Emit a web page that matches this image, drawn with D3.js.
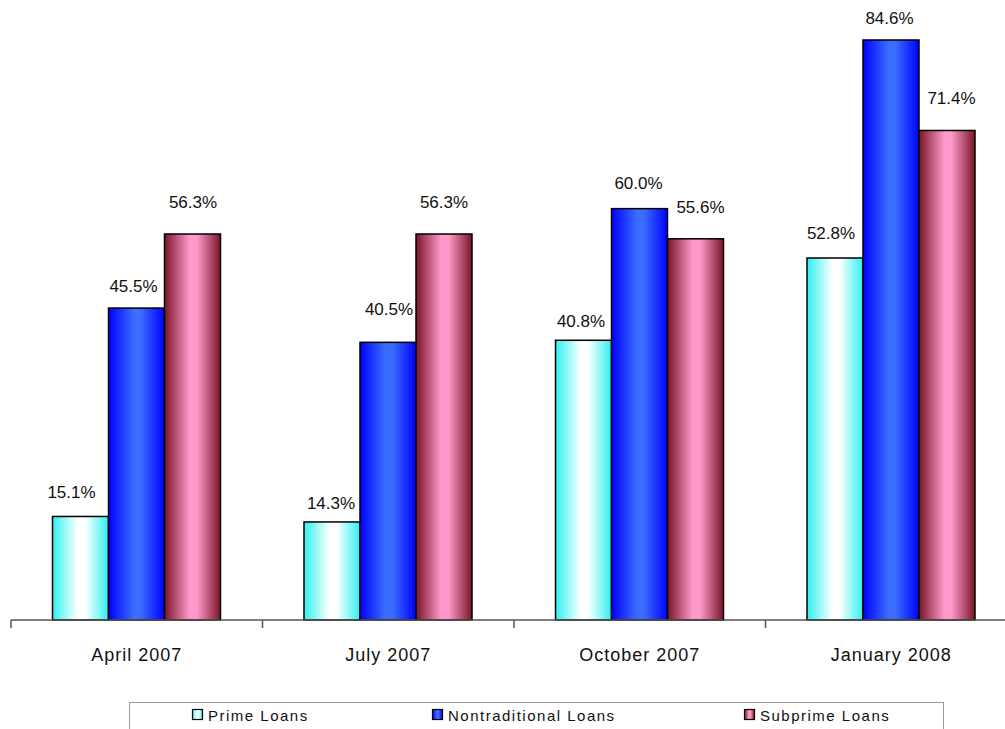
<!DOCTYPE html>
<html><head><meta charset="utf-8">
<script src="https://cdn.jsdelivr.net/npm/d3@7/dist/d3.min.js"></script>
<style>body{margin:0;background:#fff;}svg{display:block;}</style>
</head><body>
<svg id="c" width="1005" height="729"></svg>
<script>
const categories = ["April 2007", "July 2007", "October 2007", "January 2008"];
const seriesNames = ["Prime Loans", "Nontraditional Loans", "Subprime Loans"];
const prime = [15.1, 14.3, 40.8, 52.8];
const nontraditional = [45.5, 40.5, 60.0, 84.6];
const subprime = [56.3, 56.3, 55.6, 71.4];
const seriesValues = [prime, nontraditional, subprime];

// layout: label baseline gap above bar top and horizontal nudge, per series x category
const labelGap = [[18, 13, 13, 19], [16, 27, 20, 16], [26, 26, 26, 26]];
const labelNudge = [[-9, -1, -2.5, -4], [-3, 1, -1, -1.5], [0.5, 0, 5, 4.5]];

const svg = d3.select("#c");
const defs = svg.append("defs");
const grads = [
  {id:"gPrime", edge:"#2ff0f0", mid:"#ffffff"},
  {id:"gNon", edge:"#0000ff", mid:"#3a6cff"},
  {id:"gSub", edge:"#7a1426", mid:"#ff99cc"}
];
grads.forEach(g => {
  const lg = defs.append("linearGradient").attr("id", g.id).attr("x1","0%").attr("x2","100%").attr("y1","0%").attr("y2","0%");
  lg.append("stop").attr("offset","0%").attr("stop-color", g.edge);
  lg.append("stop").attr("offset","45%").attr("stop-color", g.mid);
  lg.append("stop").attr("offset","58%").attr("stop-color", g.mid);
  lg.append("stop").attr("offset","100%").attr("stop-color", g.edge);
});

const baseY = 620;
const x0 = d3.scaleBand().domain(categories).range([11, 1017]).padding(0);
const x1 = d3.scaleBand().domain(seriesNames).range([41.5, 209.5]).padding(0);
const y = d3.scaleLinear().domain([0, 90]).range([baseY, baseY - 90 * 6.856]);

const font = "'Liberation Sans', Arial, sans-serif";

// bars
categories.forEach((c, ci) => {
  const g = svg.append("g").attr("transform", `translate(${x0(c)},0)`);
  seriesNames.forEach((s, si) => {
    const v = seriesValues[si][ci];
    g.append("rect")
      .attr("x", x1(s)).attr("y", y(v))
      .attr("width", x1.bandwidth()).attr("height", y(0) - y(v))
      .attr("fill", `url(#${grads[si].id})`)
      .attr("stroke", "#000").attr("stroke-width", 1.5);
    g.append("text")
      .attr("x", x1(s) + x1.bandwidth() / 2 + labelNudge[si][ci]).attr("y", y(v) - labelGap[si][ci])
      .attr("text-anchor", "middle")
      .attr("font-family", font).attr("font-size", 17).attr("fill", "#111")
      .text(v.toFixed(1) + "%");
  });
});

// axis
const axis = d3.axisBottom(x0).tickSize(0).tickFormat(d => d);
const ag = svg.append("g").attr("transform", `translate(0,${baseY})`).call(axis);
ag.select(".domain").attr("stroke", "#555").attr("stroke-width", 1.5).attr("d", `M11,0H1005`);
ag.selectAll(".tick text").attr("font-family", font).attr("font-size", 18).attr("letter-spacing", 1)
  .attr("fill", "#111").attr("dy", 0).attr("y", 41);
// boundary ticks
const bounds = categories.map(c => x0(c));
ag.selectAll(".bt").data(bounds).enter().append("line").attr("class","bt")
  .attr("x1", d => d).attr("x2", d => d).attr("y1", 0).attr("y2", 8)
  .attr("stroke", "#555").attr("stroke-width", 1.5);

// legend
const lg = svg.append("g");
lg.append("rect").attr("x", 129.5).attr("y", 702.5).attr("width", 814).attr("height", 40)
  .attr("fill", "#fff").attr("stroke", "#999").attr("stroke-width", 1);
const legX = [192, 432, 744];
seriesNames.forEach((s, i) => {
  lg.append("rect").attr("x", legX[i] + 0.5).attr("y", 709.5).attr("width", 10).attr("height", 10)
    .attr("fill", `url(#${grads[i].id})`).attr("stroke", "#000").attr("stroke-width", 1.2);
  lg.append("text").attr("x", legX[i] + 16).attr("y", 720.5)
    .attr("font-family", font).attr("font-size", 15).attr("letter-spacing", 1.5).attr("fill", "#111")
    .text(s);
});
</script>
</body></html>
